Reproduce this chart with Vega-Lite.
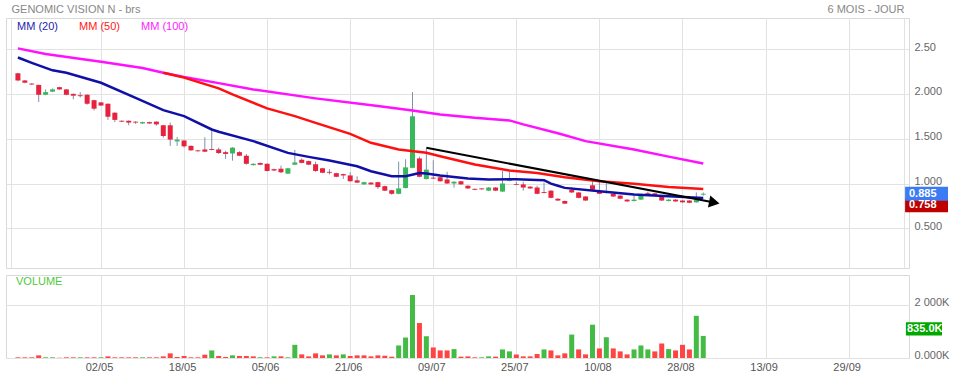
{
 "$schema": "https://vega.github.io/schema/vega-lite/v6.json",
 "padding": {"left": 5, "top": 2, "right": 0, "bottom": 0},
 "background": "white",
 "spacing": 5,
 "datasets": {
  "candles": [
   {"i":-12,"d":"13/04","o":2.23,"h":2.235,"l":2.14,"c":2.15,"v":25000,"vu":0},
   {"i":-11,"d":"16/04","o":2.15,"h":2.155,"l":2.12,"c":2.125,"v":25000,"vu":0},
   {"i":-10,"d":"17/04","o":2.115,"h":2.12,"l":2.1,"c":2.105,"v":25000,"vu":0},
   {"i":-9,"d":"18/04","o":2.1,"h":2.105,"l":1.91,"c":1.99,"v":100000,"vu":0},
   {"i":-8,"d":"19/04","o":1.99,"h":2.05,"l":1.985,"c":2.02,"v":25000,"vu":1},
   {"i":-7,"d":"20/04","o":2.025,"h":2.06,"l":2.02,"c":2.05,"v":25000,"vu":1},
   {"i":-6,"d":"23/04","o":2.075,"h":2.08,"l":2.045,"c":2.05,"v":10000,"vu":0},
   {"i":-5,"d":"24/04","o":2.05,"h":2.055,"l":1.985,"c":1.99,"v":25000,"vu":0},
   {"i":-4,"d":"25/04","o":2.0,"h":2.005,"l":1.94,"c":1.98,"v":25000,"vu":0},
   {"i":-3,"d":"26/04","o":1.985,"h":2.02,"l":1.96,"c":1.975,"v":25000,"vu":1},
   {"i":-2,"d":"27/04","o":1.99,"h":1.995,"l":1.88,"c":1.89,"v":25000,"vu":0},
   {"i":-1,"d":"30/04","o":1.93,"h":1.935,"l":1.815,"c":1.835,"v":25000,"vu":0},
   {"i":0,"d":"02/05","o":1.905,"h":1.91,"l":1.865,"c":1.87,"v":25000,"vu":1},
   {"i":1,"d":"03/05","o":1.89,"h":1.895,"l":1.71,"c":1.745,"v":62000,"vu":0},
   {"i":2,"d":"04/05","o":1.79,"h":1.795,"l":1.685,"c":1.71,"v":25000,"vu":0},
   {"i":3,"d":"07/05","o":1.7,"h":1.705,"l":1.685,"c":1.69,"v":25000,"vu":0},
   {"i":4,"d":"08/05","o":1.7,"h":1.705,"l":1.65,"c":1.68,"v":25000,"vu":0},
   {"i":5,"d":"09/05","o":1.69,"h":1.695,"l":1.665,"c":1.68,"v":25000,"vu":0},
   {"i":6,"d":"10/05","o":1.67,"h":1.69,"l":1.665,"c":1.685,"v":25000,"vu":1},
   {"i":7,"d":"11/05","o":1.685,"h":1.69,"l":1.665,"c":1.67,"v":25000,"vu":0},
   {"i":8,"d":"14/05","o":1.69,"h":1.695,"l":1.645,"c":1.66,"v":25000,"vu":0},
   {"i":9,"d":"15/05","o":1.65,"h":1.655,"l":1.51,"c":1.53,"v":62000,"vu":0},
   {"i":10,"d":"16/05","o":1.65,"h":1.68,"l":1.42,"c":1.49,"v":175000,"vu":0},
   {"i":11,"d":"17/05","o":1.47,"h":1.52,"l":1.42,"c":1.49,"v":37000,"vu":0},
   {"i":12,"d":"18/05","o":1.48,"h":1.485,"l":1.4,"c":1.415,"v":75000,"vu":0},
   {"i":13,"d":"21/05","o":1.42,"h":1.425,"l":1.365,"c":1.37,"v":25000,"vu":0},
   {"i":14,"d":"22/05","o":1.37,"h":1.375,"l":1.355,"c":1.36,"v":25000,"vu":0},
   {"i":15,"d":"23/05","o":1.38,"h":1.515,"l":1.35,"c":1.355,"v":125000,"vu":0},
   {"i":16,"d":"24/05","o":1.385,"h":1.62,"l":1.37,"c":1.375,"v":287000,"vu":1},
   {"i":17,"d":"25/05","o":1.38,"h":1.4,"l":1.33,"c":1.34,"v":75000,"vu":0},
   {"i":18,"d":"28/05","o":1.35,"h":1.365,"l":1.275,"c":1.33,"v":37000,"vu":0},
   {"i":19,"d":"29/05","o":1.335,"h":1.405,"l":1.255,"c":1.4,"v":100000,"vu":1},
   {"i":20,"d":"30/05","o":1.35,"h":1.36,"l":1.305,"c":1.31,"v":75000,"vu":0},
   {"i":21,"d":"31/05","o":1.31,"h":1.33,"l":1.21,"c":1.22,"v":75000,"vu":0},
   {"i":22,"d":"01/06","o":1.205,"h":1.225,"l":1.2,"c":1.22,"v":62000,"vu":0},
   {"i":23,"d":"04/06","o":1.23,"h":1.235,"l":1.205,"c":1.21,"v":25000,"vu":1},
   {"i":24,"d":"05/06","o":1.22,"h":1.225,"l":1.135,"c":1.14,"v":25000,"vu":0},
   {"i":25,"d":"06/06","o":1.16,"h":1.165,"l":1.14,"c":1.145,"v":62000,"vu":1},
   {"i":26,"d":"07/06","o":1.165,"h":1.2,"l":1.115,"c":1.125,"v":62000,"vu":0},
   {"i":27,"d":"08/06","o":1.11,"h":1.175,"l":1.105,"c":1.17,"v":25000,"vu":1},
   {"i":28,"d":"11/06","o":1.21,"h":1.375,"l":1.205,"c":1.235,"v":499000,"vu":1},
   {"i":29,"d":"12/06","o":1.265,"h":1.28,"l":1.225,"c":1.23,"v":137000,"vu":0},
   {"i":30,"d":"13/06","o":1.25,"h":1.255,"l":1.205,"c":1.21,"v":62000,"vu":0},
   {"i":31,"d":"14/06","o":1.215,"h":1.245,"l":1.13,"c":1.14,"v":175000,"vu":0},
   {"i":32,"d":"15/06","o":1.17,"h":1.175,"l":1.115,"c":1.12,"v":100000,"vu":0},
   {"i":33,"d":"18/06","o":1.13,"h":1.16,"l":1.1,"c":1.12,"v":137000,"vu":1},
   {"i":34,"d":"19/06","o":1.115,"h":1.12,"l":1.07,"c":1.075,"v":100000,"vu":0},
   {"i":35,"d":"20/06","o":1.105,"h":1.11,"l":1.05,"c":1.09,"v":137000,"vu":1},
   {"i":36,"d":"21/06","o":1.09,"h":1.125,"l":1.02,"c":1.025,"v":75000,"vu":0},
   {"i":37,"d":"22/06","o":1.035,"h":1.08,"l":1.005,"c":1.01,"v":100000,"vu":0},
   {"i":38,"d":"25/06","o":0.99,"h":1.02,"l":0.985,"c":1.015,"v":100000,"vu":0},
   {"i":39,"d":"26/06","o":1.01,"h":1.015,"l":0.985,"c":0.99,"v":62000,"vu":0},
   {"i":40,"d":"27/06","o":1.015,"h":1.02,"l":0.94,"c":0.96,"v":100000,"vu":0},
   {"i":41,"d":"28/06","o":0.97,"h":0.975,"l":0.915,"c":0.92,"v":87000,"vu":0},
   {"i":42,"d":"29/06","o":0.925,"h":0.93,"l":0.875,"c":0.885,"v":50000,"vu":0},
   {"i":43,"d":"02/07","o":0.885,"h":1.245,"l":0.88,"c":0.945,"v":474000,"vu":1},
   {"i":44,"d":"03/07","o":0.95,"h":1.27,"l":0.945,"c":1.18,"v":774000,"vu":1},
   {"i":45,"d":"04/07","o":1.175,"h":2.02,"l":1.17,"c":1.75,"v":2384000,"vu":1},
   {"i":46,"d":"05/07","o":1.28,"h":1.3,"l":1.07,"c":1.075,"v":1323000,"vu":0},
   {"i":47,"d":"06/07","o":1.05,"h":1.39,"l":1.045,"c":1.155,"v":824000,"vu":1},
   {"i":48,"d":"09/07","o":1.065,"h":1.26,"l":1.05,"c":1.055,"v":399000,"vu":0},
   {"i":49,"d":"10/07","o":1.07,"h":1.09,"l":1.02,"c":1.025,"v":287000,"vu":0},
   {"i":50,"d":"11/07","o":1.045,"h":1.13,"l":0.995,"c":1.0,"v":287000,"vu":0},
   {"i":51,"d":"12/07","o":1.0,"h":1.025,"l":0.955,"c":1.02,"v":337000,"vu":1},
   {"i":52,"d":"13/07","o":1.025,"h":1.03,"l":0.985,"c":0.99,"v":50000,"vu":0},
   {"i":53,"d":"16/07","o":0.975,"h":0.98,"l":0.94,"c":0.945,"v":62000,"vu":0},
   {"i":54,"d":"17/07","o":0.94,"h":0.945,"l":0.925,"c":0.93,"v":25000,"vu":0},
   {"i":55,"d":"18/07","o":0.945,"h":0.95,"l":0.93,"c":0.935,"v":25000,"vu":1},
   {"i":56,"d":"19/07","o":0.92,"h":0.96,"l":0.915,"c":0.955,"v":62000,"vu":1},
   {"i":57,"d":"20/07","o":0.955,"h":0.96,"l":0.915,"c":0.92,"v":50000,"vu":0},
   {"i":58,"d":"23/07","o":0.91,"h":1.14,"l":0.905,"c":1.0,"v":324000,"vu":1},
   {"i":59,"d":"24/07","o":1.03,"h":1.135,"l":1.025,"c":1.06,"v":250000,"vu":1},
   {"i":60,"d":"25/07","o":0.995,"h":1.02,"l":0.98,"c":0.985,"v":137000,"vu":0},
   {"i":61,"d":"26/07","o":0.99,"h":1.02,"l":0.92,"c":0.955,"v":62000,"vu":0},
   {"i":62,"d":"27/07","o":0.965,"h":0.97,"l":0.94,"c":0.945,"v":62000,"vu":0},
   {"i":63,"d":"30/07","o":0.955,"h":0.975,"l":0.88,"c":0.885,"v":150000,"vu":0},
   {"i":64,"d":"31/07","o":0.905,"h":1.01,"l":0.89,"c":0.895,"v":324000,"vu":1},
   {"i":65,"d":"01/08","o":0.92,"h":0.925,"l":0.835,"c":0.84,"v":287000,"vu":0},
   {"i":66,"d":"02/08","o":0.83,"h":0.835,"l":0.805,"c":0.81,"v":100000,"vu":0},
   {"i":67,"d":"03/08","o":0.805,"h":0.81,"l":0.77,"c":0.775,"v":175000,"vu":0},
   {"i":68,"d":"06/08","o":0.93,"h":0.96,"l":0.895,"c":0.9,"v":886000,"vu":1},
   {"i":69,"d":"07/08","o":0.9,"h":0.905,"l":0.835,"c":0.84,"v":324000,"vu":0},
   {"i":70,"d":"08/08","o":0.855,"h":0.86,"l":0.805,"c":0.81,"v":137000,"vu":0},
   {"i":71,"d":"09/08","o":0.98,"h":1.025,"l":0.925,"c":0.93,"v":1260000,"vu":1},
   {"i":72,"d":"10/08","o":0.915,"h":1.02,"l":0.88,"c":0.885,"v":362000,"vu":0},
   {"i":73,"d":"13/08","o":0.905,"h":1.01,"l":0.89,"c":0.895,"v":786000,"vu":1},
   {"i":74,"d":"14/08","o":0.885,"h":0.89,"l":0.85,"c":0.855,"v":362000,"vu":0},
   {"i":75,"d":"15/08","o":0.865,"h":0.87,"l":0.825,"c":0.83,"v":250000,"vu":0},
   {"i":76,"d":"16/08","o":0.82,"h":0.825,"l":0.795,"c":0.8,"v":137000,"vu":0},
   {"i":77,"d":"17/08","o":0.805,"h":0.87,"l":0.8,"c":0.82,"v":324000,"vu":1},
   {"i":78,"d":"20/08","o":0.82,"h":0.875,"l":0.815,"c":0.87,"v":474000,"vu":1},
   {"i":79,"d":"21/08","o":0.895,"h":0.91,"l":0.87,"c":0.885,"v":324000,"vu":1},
   {"i":80,"d":"22/08","o":0.89,"h":0.895,"l":0.865,"c":0.87,"v":250000,"vu":0},
   {"i":81,"d":"23/08","o":0.855,"h":0.86,"l":0.805,"c":0.81,"v":549000,"vu":0},
   {"i":82,"d":"24/08","o":0.805,"h":0.825,"l":0.8,"c":0.82,"v":337000,"vu":1},
   {"i":83,"d":"27/08","o":0.82,"h":0.825,"l":0.795,"c":0.8,"v":287000,"vu":0},
   {"i":84,"d":"28/08","o":0.81,"h":0.815,"l":0.785,"c":0.79,"v":499000,"vu":0},
   {"i":85,"d":"29/08","o":0.81,"h":0.815,"l":0.78,"c":0.785,"v":324000,"vu":0},
   {"i":86,"d":"30/08","o":0.79,"h":0.9,"l":0.785,"c":0.815,"v":1597000,"vu":1},
   {"i":87,"d":"31/08","o":0.875,"h":0.9,"l":0.865,"c":0.885,"v":835000,"vu":1}
  ],
  "ma": [
   {"s":"MM (100)","i":-12,"p":2.508},{"s":"MM (100)","i":-8,"p":2.445},{"s":"MM (100)","i":0,"p":2.36},
   {"s":"MM (100)","i":6,"p":2.29},{"s":"MM (100)","i":9,"p":2.236},{"s":"MM (100)","i":12,"p":2.188},
   {"s":"MM (100)","i":17,"p":2.12},{"s":"MM (100)","i":22,"p":2.05},{"s":"MM (100)","i":31,"p":1.95},
   {"s":"MM (100)","i":40,"p":1.864},{"s":"MM (100)","i":45,"p":1.815},{"s":"MM (100)","i":49,"p":1.771},
   {"s":"MM (100)","i":54,"p":1.733},{"s":"MM (100)","i":59,"p":1.704},{"s":"MM (100)","i":61,"p":1.66},
   {"s":"MM (100)","i":66,"p":1.56},{"s":"MM (100)","i":70,"p":1.473},{"s":"MM (100)","i":77,"p":1.38},
   {"s":"MM (100)","i":82,"p":1.3},{"s":"MM (100)","i":87,"p":1.223},
   {"s":"MM (50)","i":9,"p":2.236},{"s":"MM (50)","i":12,"p":2.182},{"s":"MM (50)","i":17,"p":2.061},
   {"s":"MM (50)","i":19,"p":1.994},{"s":"MM (50)","i":24,"p":1.838},{"s":"MM (50)","i":28,"p":1.752},
   {"s":"MM (50)","i":31,"p":1.677},{"s":"MM (50)","i":36,"p":1.554},{"s":"MM (50)","i":39,"p":1.454},
   {"s":"MM (50)","i":43,"p":1.38},{"s":"MM (50)","i":47,"p":1.342},{"s":"MM (50)","i":49,"p":1.305},
   {"s":"MM (50)","i":54,"p":1.212},{"s":"MM (50)","i":59,"p":1.145},{"s":"MM (50)","i":63,"p":1.118},
   {"s":"MM (50)","i":67,"p":1.07},{"s":"MM (50)","i":72,"p":1.026},{"s":"MM (50)","i":77,"p":0.996},
   {"s":"MM (50)","i":82,"p":0.962},{"s":"MM (50)","i":87,"p":0.94},
   {"s":"MM (20)","i":-12,"p":2.406},{"s":"MM (20)","i":-10,"p":2.347},{"s":"MM (20)","i":-7,"p":2.263},
   {"s":"MM (20)","i":-5,"p":2.236},{"s":"MM (20)","i":0,"p":2.124},{"s":"MM (20)","i":5,"p":1.956},
   {"s":"MM (20)","i":9,"p":1.819},{"s":"MM (20)","i":12,"p":1.752},{"s":"MM (20)","i":16,"p":1.603},
   {"s":"MM (20)","i":17,"p":1.577},{"s":"MM (20)","i":22,"p":1.473},{"s":"MM (20)","i":27,"p":1.342},
   {"s":"MM (20)","i":30,"p":1.297},{"s":"MM (20)","i":33,"p":1.257},{"s":"MM (20)","i":37,"p":1.193},
   {"s":"MM (20)","i":39,"p":1.137},{"s":"MM (20)","i":42,"p":1.082},{"s":"MM (20)","i":44,"p":1.082},
   {"s":"MM (20)","i":46,"p":1.118},{"s":"MM (20)","i":47,"p":1.112},{"s":"MM (20)","i":49,"p":1.089},
   {"s":"MM (20)","i":53,"p":1.056},{"s":"MM (20)","i":56,"p":1.045},{"s":"MM (20)","i":60,"p":1.048},
   {"s":"MM (20)","i":64,"p":1.037},{"s":"MM (20)","i":65,"p":0.998},{"s":"MM (20)","i":66,"p":0.975},
   {"s":"MM (20)","i":67,"p":0.951},{"s":"MM (20)","i":72,"p":0.914},{"s":"MM (20)","i":77,"p":0.877},
   {"s":"MM (20)","i":82,"p":0.858},{"s":"MM (20)","i":87,"p":0.839}
  ],
  "trend": [
   {"i":47,"p":1.398,"end":0},
   {"i":88.6,"p":0.787,"end":1}
  ],
  "tags": [
   {"label":"0.758","value":0.758,"k":"low"},
   {"label":"0.885","value":0.885,"k":"last"}
  ],
  "vtag": [
   {"label":"835.0K","value":835000}
  ]
 },
 "config": {
  "font": "Liberation Sans",
  "view": {"stroke": "#d9d9d9"},
  "axis": {"gridColor": "#e2e2e2", "labelFont": "Liberation Sans", "labelFontSize": 11, "labelColor": "#666666", "ticks": false, "domain": false}
 },
 "vconcat": [
  {
   "width": 903,
   "height": 250,
   "layer": [
    {
     "data": {"name": "candles"},
     "mark": {"type": "rule", "color": "#7d91ae", "strokeWidth": 1},
     "encoding": {
      "x": {"field": "i", "type": "quantitative", "title": null,
            "scale": {"domain": [-13, 116], "nice": false, "zero": false},
            "axis": {"orient": "top", "values": [-13, 0, 12, 24, 36, 48, 60, 72, 84, 96, 108, 116],
                     "labelExpr": "datum.value == -13 ? 'GENOMIC VISION N - brs' : (datum.value == 116 ? '6 MOIS - JOUR' : '')",
                     "labelAlign": {"condition": {"test": "datum.value < 0", "value": "left"}, "value": "right"},
                     "labelFlush": false, "labelOverlap": false, "labelPadding": 4, "labelColor": "#888888", "grid": true}},
      "y": {"field": "l", "type": "quantitative", "title": null,
            "scale": {"domain": [0.057, 2.847], "nice": false, "zero": false},
            "axis": {"orient": "right", "values": [0.5, 1, 1.5, 2, 2.5],
                     "labelExpr": "datum.value == 2.5 ? '2.50' : format(datum.value, '.3f')",
                     "labelPadding": 5, "labelOffset": -2, "grid": true}},
      "y2": {"field": "h"}
     }
    },
    {
     "data": {"name": "candles"},
     "mark": {"type": "bar", "size": 5},
     "encoding": {
      "x": {"field": "i", "type": "quantitative", "title": null, "scale": {"domain": [-13, 116], "nice": false, "zero": false}},
      "y": {"field": "o", "type": "quantitative", "title": null, "scale": {"domain": [0.057, 2.847], "nice": false, "zero": false}},
      "y2": {"field": "c"},
      "color": {"condition": {"test": "datum.c >= datum.o", "value": "#37b95b"}, "value": "#e8223e"}
     }
    },
    {
     "data": {"name": "ma"},
     "mark": {"type": "line", "strokeWidth": 2.5},
     "encoding": {
      "x": {"field": "i", "type": "quantitative", "title": null, "scale": {"domain": [-13, 116], "nice": false, "zero": false}},
      "y": {"field": "p", "type": "quantitative", "title": null, "scale": {"domain": [0.057, 2.847], "nice": false, "zero": false}},
      "color": {"field": "s", "type": "nominal",
                "scale": {"domain": ["MM (20)", "MM (50)", "MM (100)"], "range": ["#1010a6", "#ff1010", "#ff10ff"]},
                "legend": {"orient": "top-left", "direction": "horizontal", "title": null, "offset": 3, "padding": 0,
                           "symbolSize": 0, "symbolStrokeWidth": 0, "symbolOpacity": 0, "labelOffset": -3,
                           "columnPadding": 13, "labelFontSize": 11, "labelFont": "Liberation Sans",
                           "encode": {"labels": {"update": {"fill": {"signal": "datum.value == 'MM (20)' ? '#2424b0' : (datum.value == 'MM (50)' ? '#ff2020' : '#ff22ff')"}}}}}}
     }
    },
    {
     "data": {"name": "trend"},
     "mark": {"type": "line", "color": "black", "strokeWidth": 2},
     "encoding": {
      "x": {"field": "i", "type": "quantitative", "title": null, "scale": {"domain": [-13, 116], "nice": false, "zero": false}},
      "y": {"field": "p", "type": "quantitative", "title": null, "scale": {"domain": [0.057, 2.847], "nice": false, "zero": false}}
     }
    },
    {
     "data": {"name": "trend"},
     "transform": [{"filter": "datum.end == 1"}],
     "mark": {"type": "point", "shape": "triangle-right", "filled": true, "color": "black", "size": 150, "angle": 11, "opacity": 1},
     "encoding": {
      "x": {"field": "i", "type": "quantitative", "title": null, "scale": {"domain": [-13, 116], "nice": false, "zero": false}},
      "y": {"field": "p", "type": "quantitative", "title": null, "scale": {"domain": [0.057, 2.847], "nice": false, "zero": false}}
     }
    },
    {
     "data": {"name": "tags"},
     "mark": {"type": "point", "shape": "M0.05,-0.32L2,-0.32L2,0.32L0.05,0.32Z", "filled": true, "size": 1936, "opacity": 1, "strokeWidth": 0},
     "encoding": {
      "x": {"datum": 116, "type": "quantitative", "title": null, "scale": {"domain": [-13, 116], "nice": false, "zero": false}},
      "y": {"field": "value", "type": "quantitative", "title": null, "scale": {"domain": [0.057, 2.847], "nice": false, "zero": false}},
      "color": {"condition": {"test": "datum.k == 'last'", "value": "#3b7cf5"}, "value": "#bf0000"}
     }
    },
    {
     "data": {"name": "tags"},
     "mark": {"type": "text", "align": "left", "baseline": "middle", "dx": 5, "color": "white", "fontSize": 11, "fontWeight": "bold"},
     "encoding": {
      "x": {"datum": 116, "type": "quantitative", "title": null, "scale": {"domain": [-13, 116], "nice": false, "zero": false}},
      "y": {"field": "value", "type": "quantitative", "title": null, "scale": {"domain": [0.057, 2.847], "nice": false, "zero": false}},
      "text": {"field": "label"}
     }
    }
   ]
  },
  {
   "width": 903,
   "height": 83,
   "title": {"text": "VOLUME", "anchor": "start", "offset": -12, "dx": 10, "color": "#4fc83c", "fontSize": 11, "fontWeight": "normal", "font": "Liberation Sans"},
   "layer": [
    {
     "data": {"name": "candles"},
     "mark": {"type": "bar", "size": 5},
     "encoding": {
      "x": {"field": "i", "type": "quantitative", "title": null,
            "scale": {"domain": [-13, 116], "nice": false, "zero": false},
            "axis": {"values": [0, 12, 24, 36, 48, 60, 72, 84, 96, 108],
                     "labelExpr": "['02/05','18/05','05/06','21/06','09/07','25/07','10/08','28/08','13/09','29/09'][round(datum.value / 12)]",
                     "labelPadding": 3, "labelFlush": false, "labelColor": "#555555", "labelOffset": -2, "grid": true}},
      "y": {"field": "v", "type": "quantitative", "title": null,
            "scale": {"domain": [0, 3140000], "nice": false},
            "axis": {"orient": "right", "values": [0, 2000000],
                     "labelExpr": "datum.value == 0 ? '0.000K' : '2 000K'",
                     "labelPadding": 5, "labelOffset": -3, "grid": true}},
      "color": {"condition": {"test": "datum.vu == 1", "value": "#44bb44"}, "value": "#ff4444"}
     }
    },
    {
     "data": {"name": "vtag"},
     "mark": {"type": "point", "shape": "M0.1,-0.35L2,-0.35L2,0.35L0.1,0.35Z", "filled": true, "size": 1444, "opacity": 1, "strokeWidth": 0, "color": "#00a800", "yOffset": -7},
     "encoding": {
      "x": {"datum": 116, "type": "quantitative", "title": null, "scale": {"domain": [-13, 116], "nice": false, "zero": false}},
      "y": {"field": "value", "type": "quantitative", "title": null, "scale": {"domain": [0, 3140000], "nice": false}}
     }
    },
    {
     "data": {"name": "vtag"},
     "mark": {"type": "text", "align": "left", "baseline": "middle", "dx": 3, "color": "white", "fontSize": 11, "fontWeight": "bold", "yOffset": -7},
     "encoding": {
      "x": {"datum": 116, "type": "quantitative", "title": null, "scale": {"domain": [-13, 116], "nice": false, "zero": false}},
      "y": {"field": "value", "type": "quantitative", "title": null, "scale": {"domain": [0, 3140000], "nice": false}},
      "text": {"field": "label"}
     }
    }
   ]
  }
 ]
}
